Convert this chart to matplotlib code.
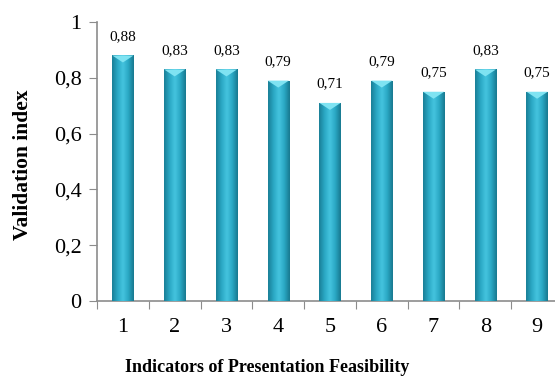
import numpy as np
import matplotlib.pyplot as plt
from matplotlib.colors import LinearSegmentedColormap
from matplotlib.patches import Polygon

plt.rcParams["font.family"] = ["Liberation Serif", "DejaVu Serif"]

# data
indicators = ["1", "2", "3", "4", "5", "6", "7", "8", "9"]
validity = [0.88, 0.83, 0.83, 0.79, 0.71, 0.79, 0.75, 0.83, 0.75]
value_labels = ["0,88", "0,83", "0,83", "0,79", "0,71", "0,79", "0,75", "0,83", "0,75"]
y_ticks = [0, 0.2, 0.4, 0.6, 0.8, 1.0]
y_tick_labels = ["0", "0,2", "0,4", "0,6", "0,8", "1"]

fig = plt.figure(figsize=(5.55, 3.89), dpi=100)
ax = fig.add_axes([97 / 555, 88 / 389, 466 / 555, 279 / 389])

x = np.arange(len(indicators))
width = 0.41

# cylinder-like shading across each bar
cmap = LinearSegmentedColormap.from_list(
    "bar", ["#1a7f97", "#2aa8c4", "#45c4df", "#2aa8c4", "#18788f"])
grad = np.linspace(0, 1, 64).reshape(1, -1)

bars = ax.bar(x, validity, width=width, color="#2aa6c2", edgecolor="none", zorder=2)
for b, v in zip(bars, validity):
    x0 = b.get_x()
    im = ax.imshow(grad, cmap=cmap, aspect="auto", zorder=3,
                   extent=[x0, x0 + width, 0, v], interpolation="bicubic")
    im.set_clip_path(b)
    # lighter cap on top
    cap = Polygon([[x0, v], [x0 + width, v], [x0 + width / 2, v - 0.025]],
                  closed=True, facecolor="#7fe3f2", edgecolor="none", zorder=4)
    ax.add_patch(cap)

for xi, v, lab in zip(x, validity, value_labels):
    ax.text(xi, v + 0.045, lab, ha="center", va="bottom", fontsize=11)

ax.set_xlim(-0.5, len(indicators) - 0.5)
ax.set_ylim(0, 1)

ax.set_yticks(y_ticks)
ax.set_yticklabels(y_tick_labels, fontsize=16)

# ticks at category boundaries, labels at centers
ax.set_xticks(np.arange(-0.5, len(indicators), 1.0))
ax.set_xticklabels([])
ax.set_xticks(x, minor=True)
ax.set_xticklabels(indicators, minor=True, fontsize=16)
ax.tick_params(axis="x", which="minor", length=0, pad=12)
ax.tick_params(axis="x", which="major", length=6, color="#8c8c8c", direction="out")
ax.tick_params(axis="y", length=6, color="#8c8c8c", direction="out", pad=5)

for side in ["top", "right"]:
    ax.spines[side].set_visible(False)
for side in ["left", "bottom"]:
    ax.spines[side].set_color("#8c8c8c")
    ax.spines[side].set_linewidth(1.2)

ax.set_ylabel("Validation index", fontsize=15.5, fontweight="bold")
ax.yaxis.set_label_coords(-0.137, 0.49)
fig.text(0.482, 0.055, "Indicators of Presentation Feasibility",
         ha="center", va="center", fontsize=13, fontweight="bold")

fig.savefig("out.png", dpi=100)
